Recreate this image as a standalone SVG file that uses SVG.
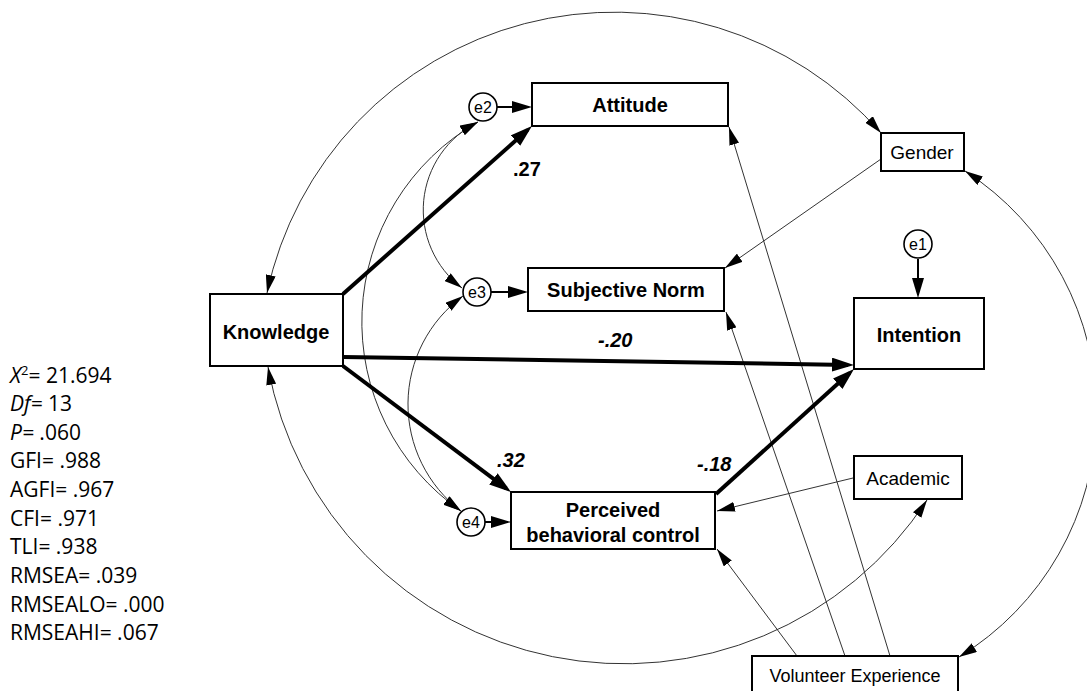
<svg xmlns="http://www.w3.org/2000/svg" width="1087" height="691" viewBox="0 0 1087 691">
<style>
.box{fill:#fff;stroke:#000;stroke-width:2}
.ecirc{fill:#fff;stroke:#000;stroke-width:1.6}
.lb{font-family:"Liberation Sans",Arial,sans-serif;font-weight:bold;font-size:20px;text-anchor:middle;fill:#000}
.ln{font-family:"Liberation Sans",Arial,sans-serif;font-size:19px;text-anchor:middle;fill:#000}
.le{font-family:"Liberation Sans",Arial,sans-serif;font-size:16px;text-anchor:middle;fill:#000}
.est{font-family:"Liberation Sans",Arial,sans-serif;font-weight:bold;font-style:italic;font-size:20px;fill:#000}
.stat{font-family:"Open Sans","Liberation Sans",sans-serif;font-size:21px;fill:#000}
.thick{stroke:#000;stroke-width:4;fill:none;marker-end:url(#ah-thick)}
.med{stroke:#000;stroke-width:2;fill:none;marker-end:url(#ah-med)}
.thin{stroke:#333;stroke-width:1;fill:none;marker-end:url(#ah-thin)}
.cov{stroke:#333;stroke-width:1;fill:none;marker-start:url(#ah-thin);marker-end:url(#ah-thin)}
</style>
<defs>
<marker id="ah-thick" markerUnits="userSpaceOnUse" markerWidth="22" markerHeight="14" refX="16" refY="7" orient="auto"><path d="M0,0 L22,7 L0,14 z" fill="#000"/></marker>
<marker id="ah-med" markerUnits="userSpaceOnUse" markerWidth="20" markerHeight="12" refX="17" refY="6" orient="auto"><path d="M0,0 L20,6 L0,12 z" fill="#000"/></marker>
<marker id="ah-thin" markerUnits="userSpaceOnUse" markerWidth="18" markerHeight="10" refX="18" refY="5" orient="auto-start-reverse"><path d="M0,0 L18,5 L0,10 z" fill="#000"/></marker>
</defs>
<rect width="1087" height="691" fill="#fff"/>

<g id="connectors">
<!-- covariance arcs -->
<path class="cov" d="M 267 293 A 355 355 0 0 1 881 133"/>
<path class="cov" d="M 268 367 A 362 362 0 0 0 927 500"/>
<path class="cov" d="M 965 171 A 287 287 0 0 1 959 657"/>
<path class="cov" d="M 478 122 A 98 98 0 0 0 462 288"/>
<path class="cov" d="M 478 122 A 230 230 0 0 0 461 511"/>
<path class="cov" d="M 463 296 A 134 134 0 0 0 461 511"/>
<!-- thin regressions -->
<line class="thin" x1="881" y1="159" x2="725" y2="268"/>
<line class="thin" x1="853" y1="478" x2="717" y2="511"/>
<line class="thin" x1="797" y1="656" x2="717" y2="549"/>
<line class="thin" x1="845" y1="656" x2="726" y2="312"/>
<line class="thin" x1="890" y1="656" x2="729" y2="127"/>
<!-- error arrows -->
<line class="med" x1="918" y1="259" x2="918" y2="295"/>
<line class="med" x1="497" y1="107" x2="529" y2="107"/>
<line class="med" x1="491" y1="292" x2="525" y2="292"/>
<line class="med" x1="485" y1="522" x2="508" y2="522"/>
<!-- thick structural paths -->
<line class="thick" x1="343" y1="294" x2="527.5" y2="130"/>
<line class="thick" x1="343" y1="357" x2="848" y2="364.9"/>
<line class="thick" x1="343" y1="366" x2="506.2" y2="488.4"/>
<line class="thick" x1="716" y1="494" x2="849.6" y2="373"/>
<!-- estimates -->
<text class="est" x="513" y="176" style="font-style:normal">.27</text>
<text class="est" x="598" y="347">-.20</text>
<text class="est" x="497" y="467">.32</text>
<text class="est" x="697" y="471">-.18</text>
</g>

<g id="node-knowledge"><rect class="box" x="210" y="294" width="133" height="72"/><text class="lb" x="276" y="339">Knowledge</text></g>
<g id="node-attitude"><rect class="box" x="532" y="83" width="196" height="43"/><text class="lb" x="630" y="112">Attitude</text></g>
<g id="node-subjective-norm"><rect class="box" x="528" y="268" width="196" height="43"/><text class="lb" x="626" y="297">Subjective Norm</text></g>
<g id="node-intention"><rect class="box" x="854" y="298" width="130" height="71"/><text class="lb" x="919" y="342">Intention</text></g>
<g id="node-pbc"><rect class="box" x="511" y="492" width="204" height="57"/><text class="lb" x="613" y="517">Perceived</text><text class="lb" x="613" y="542">behavioral control</text></g>
<g id="node-gender"><rect class="box" x="881" y="133" width="83" height="38"/><text class="ln" x="922" y="159">Gender</text></g>
<g id="node-academic"><rect class="box" x="854" y="456" width="108" height="43"/><text class="ln" x="908" y="485">Academic</text></g>
<g id="node-volunteer"><rect class="box" x="752" y="656" width="206" height="45"/><text class="ln" x="855" y="682" style="font-size:18px">Volunteer Experience</text></g>
<g id="node-e1"><circle class="ecirc" cx="918" cy="244" r="14"/><text class="le" x="918" y="250">e1</text></g>
<g id="node-e2"><circle class="ecirc" cx="483" cy="107" r="14"/><text class="le" x="483" y="113">e2</text></g>
<g id="node-e3"><circle class="ecirc" cx="477" cy="292" r="14"/><text class="le" x="477" y="298">e3</text></g>
<g id="node-e4"><circle class="ecirc" cx="471" cy="522" r="14"/><text class="le" x="471" y="528">e4</text></g>

<g id="fit-stats">
<text class="stat" x="10" y="383"><tspan font-style="italic">X</tspan><tspan font-size="13" dy="-8">2</tspan><tspan dy="8">= 21.694</tspan></text>
<text class="stat" x="10" y="411"><tspan font-style="italic">Df=</tspan> 13</text>
<text class="stat" x="10" y="440"><tspan font-style="italic">P=</tspan> .060</text>
<text class="stat" x="10" y="468">GFI= .988</text>
<text class="stat" x="10" y="497">AGFI= .967</text>
<text class="stat" x="10" y="526">CFI= .971</text>
<text class="stat" x="10" y="554">TLI= .938</text>
<text class="stat" x="10" y="583">RMSEA= .039</text>
<text class="stat" x="10" y="612">RMSEALO= .000</text>
<text class="stat" x="10" y="640">RMSEAHI= .067</text>
</g>
</svg>
